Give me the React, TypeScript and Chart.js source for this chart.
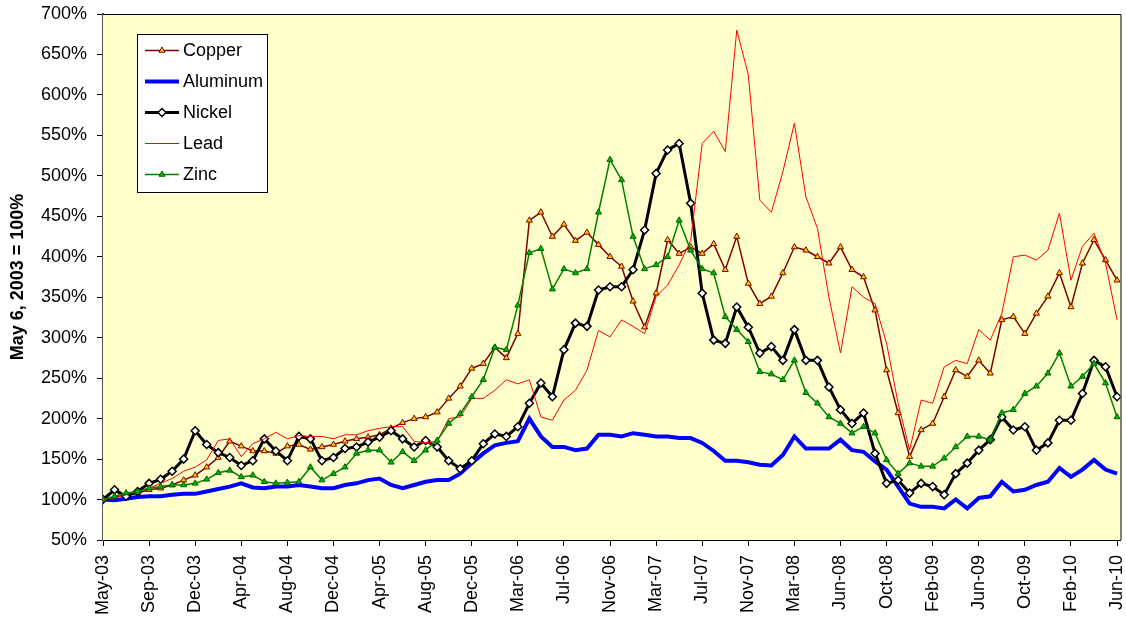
import React, { useEffect, useRef } from "react";
import { Chart, registerables } from "chart.js";

Chart.register(...registerables);

// Tick labels along the x axis (one every 4 samples)
const xTickLabels = [
  "May-03", "Sep-03", "Dec-03", "Apr-04", "Aug-04", "Dec-04", "Apr-05", "Aug-05",
  "Dec-05", "Mar-06", "Jul-06", "Nov-06", "Mar-07", "Jul-07", "Nov-07", "Mar-08",
  "Jun-08", "Oct-08", "Feb-09", "Jun-09", "Oct-09", "Feb-10", "Jun-10",
];
const samplesPerLabel = 4;
const xMax = 88.3;

// Series values, % of May 6, 2003 level
const copper = [
  100, 103, 106, 108, 112, 114, 118, 124, 130, 140, 152, 172, 166, 160, 160, 157, 166, 168,
  162, 165, 168, 172, 175, 177, 180, 188, 195, 200, 202, 208, 225, 240, 262, 268, 288,
  275, 305, 445, 455, 425, 440, 420, 430, 415, 400, 388, 345, 313, 355,
  421, 404, 412, 404, 416, 384, 425, 367, 342, 351, 380, 412, 408,
  400, 392, 412, 384, 375, 334, 260, 207, 153, 186, 194,
  227, 260, 252, 272, 256, 322, 326, 305, 330, 351, 380, 338, 392, 421, 396, 371,
];
const aluminum = [
  100, 99, 101, 103, 104, 104, 106, 107, 107, 110, 113, 116, 120, 115, 114, 116, 116, 118,
  116, 114, 114, 118, 120, 124, 126, 118, 114, 118, 122, 124, 124, 132, 145, 157, 167,
  170, 172, 200, 178, 165, 165, 161, 163, 180, 180, 178, 182, 180, 178,
  178, 176, 176, 170, 160, 148, 148, 146, 143, 142, 155, 178, 163,
  163, 163, 174, 161, 159, 147, 137, 116, 95, 91, 91,
  89, 100, 89, 102, 104, 122, 110, 112, 118, 122, 139, 128, 137, 149, 137, 132,
];
const nickel = [
  100, 112, 104, 110, 120, 125, 135, 150, 185, 168, 158, 152, 142, 148, 175, 160, 148, 178,
  175, 148, 152, 163, 165, 171, 177, 185, 175, 165, 173, 165, 148, 138, 148, 169, 181,
  178, 190, 219, 244, 227, 285, 318, 314, 359, 363, 363, 384, 433, 503,
  532, 540, 466, 355, 297, 293, 338, 313, 281, 289, 272, 310, 272,
  272, 239, 211, 194, 207, 157, 120, 124, 108, 120, 116,
  106, 132, 145, 161, 174, 202, 186, 190, 161, 170, 198, 198, 231, 272, 264, 227,
];
const lead = [
  100, 102, 106, 110, 114, 120, 126, 135, 140, 149, 173, 175, 153, 169, 175, 183, 175, 179,
  178, 178, 175, 180, 180, 185, 188, 190, 190, 172, 170, 172, 200, 202, 225, 225, 235,
  248, 243, 248, 202, 198, 223, 235, 260, 309, 301, 322, 314, 305, 351,
  365, 390, 420, 540, 555, 530, 680, 625, 470, 455, 505, 565, 474,
  435, 350, 281, 363, 350, 342, 293, 219, 161, 223, 219,
  264, 272, 268, 310, 297, 330, 400, 402, 396, 408, 454, 371, 413, 429, 392, 322,
];
const zinc = [
  100, 104, 108, 110, 114, 116, 118, 118, 120, 125, 133, 136, 128, 130, 122, 120, 121, 122,
  140, 124, 132, 140, 157, 161, 161, 146, 159, 148, 161, 173, 194, 206, 227, 248, 288,
  285, 340, 405, 410, 360, 385, 380, 385, 455, 520, 495, 425, 385, 390,
  400, 445, 408, 385, 380, 326, 310, 295, 258, 255, 248, 272, 232,
  219, 202, 194, 182, 190, 182, 149, 132, 145, 141, 141,
  151, 165, 178, 178, 174, 207, 211, 231, 240, 256, 281, 240, 252, 268, 244, 202,
];

const seriesNames = ["Copper", "Aluminum", "Nickel", "Lead", "Zinc"];
const FONT = 'Arial, "Liberation Sans", sans-serif';

const toPoints = (arr: number[]) => arr.map((v, i) => ({ x: i, y: v }));

const plotBgPlugin = {
  id: "plotBg",
  beforeDatasetsDraw(chart: any) {
    const { ctx, chartArea: a } = chart;
    ctx.save();
    ctx.fillStyle = "#FFFFCC";
    ctx.fillRect(a.left, a.top, a.right - a.left, a.bottom - a.top);
    ctx.restore();
  },
  afterDatasetsDraw(chart: any) {
    const { ctx, chartArea: a } = chart;
    ctx.save();
    ctx.strokeStyle = "#000";
    ctx.lineWidth = 1;
    ctx.beginPath();
    ctx.moveTo(a.left, a.top + 0.5);
    ctx.lineTo(a.right + 0.5, a.top + 0.5);
    ctx.lineTo(a.right + 0.5, a.bottom);
    ctx.stroke();
    ctx.restore();
  },
};

function drawMarker(ctx: CanvasRenderingContext2D, style: string, x: number, y: number, r: number) {
  ctx.beginPath();
  if (style === "triangle") {
    for (let k = 0; k < 3; k++) {
      const ang = (k * 2 * Math.PI) / 3;
      const px = x + Math.sin(ang) * r;
      const py = y - Math.cos(ang) * r;
      if (k === 0) ctx.moveTo(px, py);
      else ctx.lineTo(px, py);
    }
  } else {
    ctx.moveTo(x - r, y);
    ctx.lineTo(x, y - r);
    ctx.lineTo(x + r, y);
    ctx.lineTo(x, y + r);
  }
  ctx.closePath();
  ctx.fill();
  ctx.stroke();
}

const boxLegendPlugin = {
  id: "boxLegend",
  afterDraw(chart: any) {
    const ctx = chart.ctx as CanvasRenderingContext2D;
    const bx = 137.5, by = 34.5, bw = 130, bh = 158;
    ctx.save();
    ctx.fillStyle = "#FFFFFF";
    ctx.fillRect(bx, by, bw, bh);
    ctx.strokeStyle = "#000";
    ctx.lineWidth = 1;
    ctx.strokeRect(bx, by, bw, bh);
    chart.data.datasets.forEach((ds: any, k: number) => {
      const y = 50.5 + k * 31;
      ctx.strokeStyle = ds.borderColor;
      ctx.lineWidth = ds.borderWidth;
      ctx.beginPath();
      ctx.moveTo(145, y);
      ctx.lineTo(179, y);
      ctx.stroke();
      if (ds.pointRadius > 0) {
        ctx.fillStyle = ds.pointBackgroundColor;
        ctx.strokeStyle = ds.pointBorderColor;
        ctx.lineWidth = ds.pointBorderWidth;
        drawMarker(ctx, ds.pointStyle, 162, y, ds.pointRadius);
      }
      ctx.fillStyle = "#000";
      ctx.font = `18px ${FONT}`;
      ctx.textBaseline = "middle";
      ctx.textAlign = "left";
      ctx.fillText(ds.label, 183, y + 1);
    });
    ctx.restore();
  },
};

export default function App() {
  const canvasRef = useRef<HTMLCanvasElement>(null);

  useEffect(() => {
    if (!canvasRef.current) return;
    const chart = new Chart(canvasRef.current, {
      type: "line",
      data: {
        datasets: [
          {
            label: seriesNames[0],
            data: toPoints(copper),
            borderColor: "#800000",
            borderWidth: 1.5,
            pointStyle: "triangle",
            pointRadius: 3.5,
            pointBackgroundColor: "#FFCC00",
            pointBorderColor: "#800000",
            pointBorderWidth: 1,
            order: 4,
          },
          {
            label: seriesNames[1],
            data: toPoints(aluminum),
            borderColor: "#0000FF",
            borderWidth: 4,
            pointRadius: 0,
            order: 3,
          },
          {
            label: seriesNames[2],
            data: toPoints(nickel),
            borderColor: "#000000",
            borderWidth: 3,
            pointStyle: "rectRot",
            pointRadius: 4,
            pointBackgroundColor: "#FFFFFF",
            pointBorderColor: "#000000",
            pointBorderWidth: 1.5,
            order: 2,
          },
          {
            label: seriesNames[3],
            data: toPoints(lead),
            borderColor: "#FF0000",
            borderWidth: 1,
            pointRadius: 0,
            order: 1,
          },
          {
            label: seriesNames[4],
            data: toPoints(zinc),
            borderColor: "#008000",
            borderWidth: 1.5,
            pointStyle: "triangle",
            pointRadius: 3.5,
            pointBackgroundColor: "#00B400",
            pointBorderColor: "#006400",
            pointBorderWidth: 1,
            order: 0,
          },
        ] as any,
      },
      options: {
        responsive: false,
        animation: false,
        events: [],
        layout: { padding: { top: 14, right: 2, left: 0, bottom: 0 } },
        elements: { line: { tension: 0 } },
        plugins: {
          legend: { display: false },
          tooltip: { enabled: false },
        },
        scales: {
          x: {
            type: "linear",
            min: 0,
            max: xMax,
            afterBuildTicks: (s: any) => {
              s.ticks = xTickLabels.map((_, k) => ({ value: k * samplesPerLabel }));
            },
            afterFit: (s: any) => {
              s.height = 84;
              s.paddingLeft = 0;
              s.paddingRight = 0;
            },
            ticks: {
              autoSkip: false,
              maxRotation: 90,
              minRotation: 90,
              padding: 9,
              color: "#000",
              font: { family: FONT, size: 18 },
              callback: (v: any) => xTickLabels[Math.round(Number(v) / samplesPerLabel)],
            },
            grid: {
              display: true,
              drawOnChartArea: false,
              drawTicks: true,
              tickLength: 6,
              color: "#000",
            },
            border: { display: true, color: "#000", width: 1 },
          },
          y: {
            type: "linear",
            min: 50,
            max: 700,
            afterFit: (s: any) => {
              s.width = 103;
              s.paddingTop = 0;
              s.paddingBottom = 0;
            },
            ticks: {
              stepSize: 50,
              padding: 10,
              color: "#000",
              font: { family: FONT, size: 18 },
              callback: (v: any) => `${v}%`,
            },
            grid: {
              display: true,
              drawOnChartArea: false,
              drawTicks: true,
              tickLength: 6,
              color: "#000",
            },
            border: { display: true, color: "#555", width: 2 },
            title: {
              display: true,
              text: "May 6, 2003 = 100%",
              color: "#000",
              font: { family: FONT, size: 18, weight: "bold" },
              padding: { top: 7, bottom: 0 },
            },
          },
        },
      },
      plugins: [plotBgPlugin, boxLegendPlugin],
    });
    return () => chart.destroy();
  }, []);

  return (
    <div style={{ position: "fixed", left: 0, top: 0, width: 1126, height: 624, background: "#fff" }}>
      <canvas ref={canvasRef} width={1126} height={624} style={{ display: "block" }} />
    </div>
  );
}
